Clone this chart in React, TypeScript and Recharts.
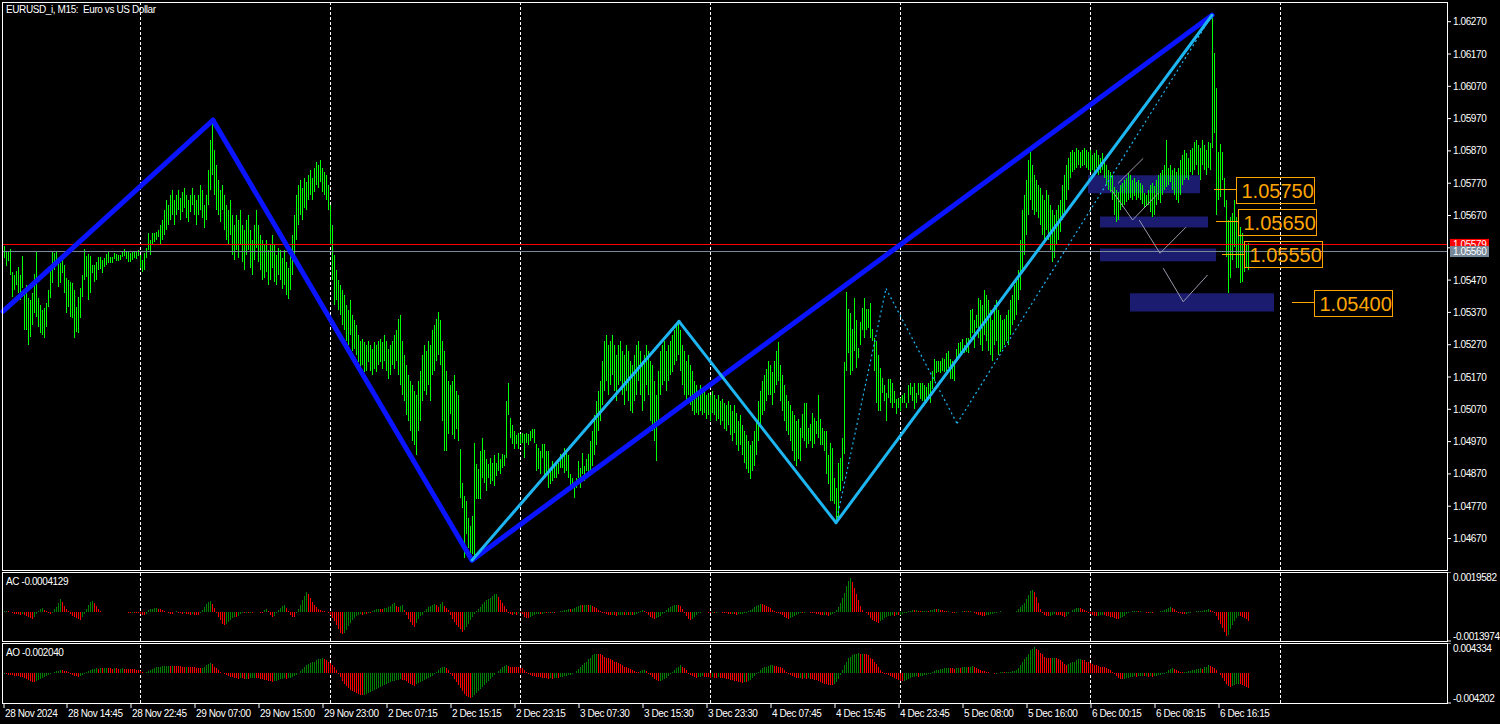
import React from "react";
import {
  ComposedChart,
  Bar,
  Cell,
  XAxis,
  YAxis,
  ReferenceLine,
  ReferenceArea,
  ReferenceDot,
} from "recharts";

// EURUSD M15 bars, stored as points above 1.00000 (5560 -> 1.05560)
const HIGH_PTS = [
  5575, 5560, 5560, 5566, 5495, 5486, 5498, 5510, 5486, 5544,
  5424, 5455, 5414, 5408, 5430, 5489, 5560, 5414, 5393, 5377,
  5383, 5399, 5439, 5504, 5557, 5554, 5560, 5532, 5523, 5535,
  5517, 5476, 5470, 5464, 5461, 5439, 5387, 5417, 5445, 5486,
  5566, 5544, 5551, 5544, 5517, 5517, 5526, 5541, 5541, 5532,
  5538, 5551, 5560, 5541, 5541, 5554, 5551, 5548, 5548, 5557,
  5566, 5560, 5557, 5554, 5560, 5560, 5560, 5563, 5548, 5532,
  5554, 5569, 5616, 5594, 5616, 5616, 5619, 5625, 5640, 5655,
  5686, 5717, 5702, 5732, 5748, 5717, 5732, 5748, 5723, 5742,
  5754, 5732, 5717, 5732, 5754, 5732, 5717, 5732, 5764, 5748,
  5702, 5732, 5810, 5903, 5960, 5872, 5826, 5779, 5748, 5764,
  5732, 5702, 5686, 5717, 5671, 5640, 5671, 5655, 5686, 5640,
  5624, 5655, 5671, 5624, 5593, 5640, 5686, 5640, 5609, 5593,
  5578, 5593, 5562, 5578, 5609, 5578, 5547, 5568, 5562, 5537,
  5562, 5525, 5506, 5547, 5609, 5671, 5732, 5764, 5779, 5754,
  5785, 5773, 5795, 5810, 5785, 5816, 5835, 5826, 5841, 5816,
  5804, 5795, 5764, 5702, 5640, 5547, 5500, 5469, 5454, 5438,
  5423, 5392, 5376, 5407, 5361, 5345, 5330, 5299, 5283, 5289,
  5277, 5268, 5283, 5268, 5258, 5277, 5268, 5283, 5289, 5277,
  5299, 5283, 5258, 5268, 5283, 5299, 5314, 5351, 5361, 5283,
  5237, 5206, 5175, 5159, 5144, 5128, 5113, 5159, 5190, 5237,
  5268, 5252, 5283, 5268, 5314, 5330, 5351, 5370, 5345, 5283,
  5252, 5190, 5159, 5144, 5159, 5175, 5128, 5113, 4948, 4843,
  4803, 4787, 4734, 4710, 4741, 4967, 4902, 4886, 4942, 4982,
  4945, 4917, 4902, 4920, 4905, 4927, 4905, 4936, 4917, 4933,
  4927, 5097, 5150, 5044, 5020, 5004, 4989, 4998, 4995, 4998,
  4995, 4998, 4995, 5004, 5010, 5010, 4964, 4951, 4942, 4964,
  4964, 4942, 4942, 4889, 4911, 4902, 4902, 4905, 4933, 4927,
  4951, 4942, 4927, 4871, 4858, 4840, 4858, 4911, 4889, 4936,
  4896, 4917, 4933, 4973, 5004, 5051, 5097, 5128, 5159, 5221,
  5283, 5299, 5268, 5283, 5299, 5268, 5237, 5268, 5283, 5252,
  5237, 5268, 5252, 5221, 5206, 5237, 5268, 5283, 5252, 5221,
  5237, 5268, 5252, 5221, 5206, 5159, 5113, 5190, 5252, 5268,
  5283, 5252, 5268, 5283, 5299, 5314, 5330, 5339, 5314, 5268,
  5252, 5221, 5237, 5206, 5190, 5159, 5144, 5128, 5144, 5128,
  5134, 5113, 5122, 5113, 5128, 5113, 5103, 5113, 5097, 5103,
  5091, 5082, 5097, 5082, 5066, 5082, 5060, 5035, 5051, 5020,
  5004, 4989, 4973, 4958, 4973, 5004, 5035, 5097, 5128, 5159,
  5175, 5196, 5221, 5206, 5184, 5221, 5252, 5277, 5206, 5175,
  5144, 5113, 5097, 5082, 5066, 5051, 5035, 5041, 5013, 5057,
  5088, 5088, 5013, 5026, 5060, 5044, 5035, 5113, 5041, 5013,
  5004, 5004, 4927, 4967, 4951, 4858, 4827, 4905, 4920, 4982,
  5215, 5432, 5382, 5367, 5320, 5416, 5345, 5261, 5339, 5385,
  5416, 5382, 5382, 5398, 5320, 5292, 5283, 5237, 5199, 5168,
  5144, 5122, 5165, 5165, 5150, 5128, 5103, 5106, 5106, 5113,
  5119, 5091, 5144, 5150, 5138, 5150, 5122, 5150, 5150, 5150,
  5144, 5138, 5150, 5159, 5190, 5227, 5221, 5221, 5221, 5230,
  5227, 5243, 5252, 5227, 5221, 5206, 5258, 5274, 5277, 5289,
  5268, 5292, 5292, 5376, 5382, 5345, 5361, 5416, 5407, 5392,
  5438, 5423, 5407, 5376, 5345, 5392, 5407, 5376, 5361, 5345,
  5351, 5361, 5376, 5407, 5423, 5454, 5469, 5500, 5593, 5686,
  5732, 5779, 5841, 5872, 5826, 5795, 5779, 5764, 5754, 5732,
  5717, 5748, 5732, 5702, 5686, 5671, 5686, 5702, 5717, 5764,
  5795, 5826, 5847, 5866, 5872, 5866, 5878, 5872, 5866, 5872,
  5878, 5872, 5866, 5872, 5857, 5863, 5872, 5857, 5847, 5863,
  5841, 5826, 5810, 5804, 5795, 5757, 5748, 5742, 5764, 5770,
  5779, 5785, 5801, 5795, 5779, 5785, 5773, 5779, 5770, 5764,
  5739, 5732, 5748, 5764, 5770, 5761, 5779, 5795, 5801, 5810,
  5826, 5903, 5816, 5826, 5810, 5816, 5804, 5816, 5841, 5857,
  5872, 5863, 5847, 5872, 5878, 5897, 5903, 5888, 5878, 5903,
  5888, 5872, 5897, 5894, 6281, 6173, 6064, 5866, 5891, 5866,
  5785, 5717, 5655, 5664, 5677, 5717, 5664, 5615, 5633, 5615,
  5584, 5578, 5584,
];

const LOW_PTS = [
  5538, 5513, 5529, 5486, 5417, 5439, 5455, 5430, 5408, 5445,
  5315, 5315, 5269, 5294, 5331, 5368, 5356, 5325, 5306, 5300,
  5291, 5325, 5387, 5414, 5461, 5501, 5523, 5448, 5461, 5492,
  5430, 5368, 5387, 5356, 5352, 5291, 5309, 5306, 5352, 5417,
  5470, 5479, 5408, 5430, 5492, 5464, 5470, 5501, 5504, 5492,
  5510, 5517, 5523, 5523, 5523, 5535, 5529, 5529, 5532, 5541,
  5544, 5535, 5526, 5526, 5532, 5538, 5535, 5544, 5507, 5495,
  5501, 5538, 5563, 5548, 5578, 5588, 5594, 5603, 5578, 5593,
  5609, 5624, 5640, 5655, 5671, 5640, 5671, 5686, 5655, 5680,
  5692, 5661, 5649, 5680, 5702, 5671, 5640, 5671, 5686, 5661,
  5630, 5655, 5702, 5748, 5795, 5732, 5686, 5671, 5649, 5686,
  5624, 5593, 5578, 5609, 5547, 5531, 5562, 5537, 5578, 5525,
  5500, 5547, 5562, 5506, 5485, 5531, 5568, 5525, 5500, 5469,
  5475, 5494, 5454, 5469, 5506, 5463, 5454, 5485, 5469, 5444,
  5454, 5423, 5413, 5438, 5485, 5547, 5593, 5640, 5671, 5655,
  5692, 5686, 5717, 5732, 5717, 5742, 5764, 5754, 5773, 5742,
  5732, 5717, 5686, 5578, 5469, 5392, 5407, 5376, 5361, 5330,
  5314, 5283, 5268, 5299, 5252, 5258, 5237, 5215, 5196, 5206,
  5184, 5190, 5215, 5190, 5175, 5196, 5184, 5206, 5215, 5196,
  5221, 5190, 5165, 5175, 5206, 5196, 5221, 5175, 5144, 5113,
  5097, 5051, 5035, 5004, 4973, 4958, 4927, 5004, 5035, 5097,
  5128, 5113, 5144, 5097, 5175, 5190, 5221, 5237, 5206, 5035,
  4942, 4942, 4995, 5057, 4989, 4979, 5010, 4973, 4796, 4765,
  4610, 4685, 4641, 4610, 4623, 4610, 4793, 4793, 4793, 4858,
  4843, 4818, 4858, 4840, 4849, 4834, 4865, 4880, 4871, 4889,
  4896, 4920, 5051, 4982, 4964, 4948, 4964, 4948, 4964, 4967,
  4920, 4967, 4958, 4973, 4982, 4967, 4880, 4886, 4871, 4920,
  4858, 4871, 4827, 4840, 4849, 4858, 4858, 4871, 4889, 4889,
  4874, 4880, 4858, 4827, 4827, 4796, 4827, 4858, 4827, 4871,
  4849, 4880, 4871, 4880, 4896, 4927, 4958, 5004, 5035, 5082,
  5128, 5159, 5113, 5144, 5175, 5128, 5097, 5144, 5159, 5113,
  5082, 5128, 5097, 5066, 5060, 5097, 5113, 5159, 5113, 5066,
  5097, 5144, 5113, 5035, 5004, 4973, 4911, 5035, 5113, 5144,
  5159, 5128, 5159, 5175, 5184, 5206, 5221, 5237, 5190, 5144,
  5113, 5097, 5113, 5082, 5066, 5051, 5060, 5051, 5066, 5051,
  5060, 5041, 5051, 5035, 5060, 5051, 5035, 5041, 5020, 5035,
  5010, 5004, 5020, 4989, 4973, 4998, 4958, 4942, 4958, 4927,
  4905, 4886, 4874, 4855, 4880, 4896, 4927, 4973, 5020, 5051,
  5066, 5097, 5113, 5113, 5082, 5122, 5144, 5159, 5097, 5066,
  5035, 5004, 4989, 4973, 4942, 4911, 4896, 4917, 4911, 4982,
  4973, 4951, 4964, 4973, 4951, 4964, 4995, 4982, 4958, 4958,
  4942, 4871, 4840, 4787, 4787, 4778, 4716, 4734, 4818, 4849,
  4933, 5190, 5243, 5175, 5190, 5252, 5199, 5230, 5268, 5314,
  5292, 5314, 5323, 5292, 5283, 5190, 5088, 5066, 5066, 5119,
  5097, 5035, 5106, 5088, 5075, 5088, 5057, 5075, 5066, 5088,
  5088, 5075, 5088, 5113, 5097, 5072, 5088, 5113, 5103, 5097,
  5091, 5088, 5106, 5091, 5134, 5159, 5181, 5184, 5181, 5190,
  5184, 5190, 5199, 5165, 5165, 5159, 5221, 5230, 5243, 5243,
  5243, 5246, 5243, 5292, 5305, 5261, 5323, 5292, 5268, 5252,
  5299, 5283, 5252, 5237, 5221, 5268, 5283, 5237, 5246, 5258,
  5268, 5283, 5268, 5299, 5330, 5345, 5361, 5407, 5438, 5500,
  5547, 5609, 5671, 5717, 5686, 5671, 5680, 5661, 5640, 5609,
  5593, 5624, 5593, 5562, 5525, 5537, 5578, 5593, 5618, 5655,
  5680, 5717, 5748, 5785, 5804, 5810, 5816, 5826, 5816, 5822,
  5826, 5816, 5810, 5804, 5810, 5804, 5816, 5795, 5801, 5810,
  5785, 5764, 5748, 5742, 5717, 5671, 5649, 5655, 5686, 5695,
  5702, 5711, 5717, 5723, 5717, 5729, 5717, 5723, 5717, 5705,
  5692, 5698, 5702, 5680, 5664, 5671, 5702, 5717, 5708, 5732,
  5748, 5757, 5764, 5773, 5748, 5732, 5717, 5708, 5732, 5764,
  5779, 5785, 5779, 5804, 5795, 5810, 5826, 5795, 5779, 5826,
  5810, 5795, 5816, 5810, 5880, 5925, 5671, 5717, 5726, 5779,
  5695, 5540, 5429, 5478, 5531, 5571, 5509, 5509, 5460, 5463,
  5494, 5509, 5500,
];

// Awesome Oscillator, x 1e-5
const AO_E5 = [
  -14, -14, -21, -28, -28, -36, -43, -43, -50, -57,
  -71, -85, -99, -114, -128, -128, -114, -99, -85, -71,
  -57, -43, -28, -14, 7, 21, 28, 36, 43, 43,
  36, 28, 14, -3, -21, -36, -43, -50, -43, -28,
  -14, 14, 36, 50, 57, 64, 71, 70, 72, 71,
  73, 74, 72, 71, 70, 72, 71, 69, 70, 72,
  70, 68, 67, 64, 62, 57, 55, 50, 28, 14,
  7, 14, 28, 43, 57, 71, 85, 92, 99, 100,
  101, 105, 107, 106, 108, 107, 105, 104, 100, 98,
  97, 99, 93, 92, 86, 85, 79, 72, 71, 78,
  92, 114, 135, 142, 128, 99, 71, 43, 21, 3,
  -14, -28, -43, -50, -57, -64, -71, -72, -70, -71,
  -73, -72, -74, -71, -70, -64, -65, -71, -78, -85,
  -92, -99, -107, -114, -121, -114, -107, -92, -85, -78,
  -71, -72, -70, -64, -57, -43, -21, 3, 28, 57,
  85, 114, 128, 142, 156, 170, 185, 199, 206, 213,
  206, 192, 170, 142, 114, 85, 43, -3, -57, -114,
  -156, -185, -213, -234, -256, -270, -284, -298, -305, -312,
  -305, -298, -284, -270, -256, -241, -227, -213, -199, -185,
  -170, -156, -142, -128, -114, -107, -99, -92, -85, -87,
  -99, -114, -135, -156, -170, -172, -156, -142, -128, -114,
  -99, -85, -71, -57, -43, -14, 14, 43, 71, 85,
  86, 71, 43, -3, -43, -85, -128, -170, -213, -256,
  -298, -327, -341, -348, -334, -305, -277, -248, -220, -192,
  -163, -135, -106, -78, -50, -21, 7, 36, 64, 92,
  108, 114, 107, 99, 93, 92, 86, 85, 78, 71,
  43, 14, -14, -28, -36, -43, -44, -50, -57, -64,
  -65, -71, -73, -70, -72, -71, -64, -65, -57, -50,
  -43, -36, -28, -21, -14, 7, 28, 57, 85, 114,
  142, 170, 199, 227, 256, 270, 284, 277, 270, 256,
  241, 227, 213, 199, 185, 170, 156, 142, 128, 114,
  99, 85, 71, 57, 43, 28, 21, 14, 28, 43,
  44, 28, -3, -28, -57, -85, -99, -114, -112, -99,
  -85, -71, -43, -14, 14, 43, 71, 99, 114, 99,
  71, 43, -3, -28, -43, -57, -64, -57, -50, -43,
  -44, -50, -57, -58, -56, -64, -65, -57, -58, -64,
  -71, -78, -85, -92, -99, -107, -114, -121, -128, -129,
  -127, -128, -114, -99, -71, -43, -14, 14, 43, 71,
  85, 99, 107, 114, 115, 113, 107, 99, 85, 71,
  43, 14, -14, -28, -43, -57, -64, -71, -70, -78,
  -71, -72, -70, -78, -85, -92, -99, -114, -128, -142,
  -149, -156, -163, -170, -171, -156, -128, -85, -28, 43,
  114, 170, 213, 241, 263, 277, 284, 285, 277, 284,
  283, 270, 256, 227, 199, 170, 128, 85, 43, 14,
  -3, -14, -28, -43, -57, -71, -85, -99, -107, -114,
  -107, -99, -85, -71, -57, -50, -43, -44, -42, -36,
  -28, -21, -14, -3, 14, 28, 43, 50, 57, 64,
  71, 72, 78, 77, 71, 70, 71, 78, 77, 85,
  86, 92, 91, 99, 100, 92, 78, 64, 50, 36,
  28, 21, 14, 7, 6, -3, -2, 7, 14, 15,
  14, 15, 21, 22, 28, 29, 43, 71, 114, 156,
  199, 241, 284, 327, 355, 376, 355, 327, 298, 270,
  241, 227, 220, 213, 214, 220, 213, 199, 185, 156,
  128, 121, 128, 142, 156, 170, 185, 199, 200, 192,
  185, 170, 156, 142, 128, 121, 114, 107, 99, 92,
  85, 71, 57, 43, 14, -14, -43, -64, -78, -85,
  -78, -71, -64, -57, -50, -43, -44, -42, -36, -35,
  -43, -42, -44, -43, -45, -36, -35, -28, -21, -14,
  -2, 21, 43, 64, 71, 57, 43, 28, 21, 14,
  15, 21, 28, 36, 43, 50, 57, 64, 71, 70,
  85, 99, 114, 113, 99, 71, 43, 7, -28, -71,
  -114, -156, -185, -192, -185, -170, -156, -149, -156, -170,
  -185, -199, -204,
];

// Accelerator Oscillator, x 1e-5
const AC_E5 = [
  5, 7, 5, 2, -5, -7, -10, -10, -12, -10,
  -15, -19, -24, -29, -34, -24, -10, 7, 15, 19,
  10, 5, -5, -10, -5, 15, 24, 44, 63, 49,
  29, 15, 5, -10, -19, -24, -29, -34, -39, -24,
  -10, 15, 34, 49, 53, 44, 29, 15, 5, 2,
  1, 2, 3, 2, 3, 2, 1, 2, 3, 2,
  2, 3, -2, -3, -2, -3, -3, -5, -7, -15,
  -15, -10, 10, 15, 17, 19, 20, 17, 15, 10,
  5, 2, -5, -7, -8, 2, 5, -2, -5, -7,
  -5, -7, -10, -12, -10, -11, -12, -15, -5, 10,
  24, 39, 49, 53, 39, 19, -5, -24, -39, -58,
  -63, -58, -49, -39, -29, -24, -25, -19, -10, -5,
  -5, -2, -3, -2, -3, 2, 3, 2, -2, -5,
  10, 15, 5, -15, -24, -19, -5, 10, 19, 29,
  34, 19, 5, -15, -24, -25, -5, 15, 34, 58,
  78, 97, 87, 68, 49, 34, 24, 15, 10, 7,
  5, 2, -5, -15, -29, -44, -63, -83, -102, -107,
  -102, -87, -68, -53, -39, -29, -19, -15, -10, -11,
  -7, -8, -5, -6, 5, 10, 15, 17, 15, 14,
  19, 20, 24, 29, 39, 44, 29, 24, 29, 34,
  10, -15, -34, -49, -63, -73, -53, -34, -19, -15,
  5, 15, 24, 29, 34, 39, 34, 24, 39, 49,
  29, 19, 10, -15, -34, -49, -63, -73, -83, -97,
  -87, -73, -58, -39, -24, -10, 5, 15, 24, 39,
  49, 58, 63, 68, 78, 87, 88, 73, 58, 44,
  29, 15, -2, -10, -15, -10, -11, -5, -6, -10,
  -24, -29, -30, -24, -19, -15, -10, -7, -8, -7,
  -5, -6, -2, -3, -2, -3, 2, 3, 5, 7,
  10, 12, 15, 14, 15, 19, 24, 29, 34, 33,
  34, 35, 34, 35, 29, 24, 19, 10, 5, -2,
  -5, -10, -12, -15, -14, -15, -16, -15, -14, -12,
  -13, -12, -13, -12, -13, -12, -10, -5, 5, 10,
  5, -5, -15, -24, -29, -34, -29, -24, -19, -10,
  -2, 10, 19, 24, 29, 34, 35, 34, 29, 15,
  -5, -19, -34, -39, -34, -24, -15, -5, -2, 2,
  2, 1, -2, -3, -2, -3, -2, 2, 3, -2,
  -5, -6, -7, -8, -7, -10, -11, -10, -9, -7,
  -5, -2, 5, 10, 17, 24, 29, 34, 39, 38,
  34, 29, 24, 19, 12, 5, -2, -5, -10, -15,
  -24, -29, -34, -29, -24, -19, -15, -10, -5, -6,
  -2, 2, 3, -2, -3, -5, -7, -10, -12, -15,
  -14, -15, -16, -12, -10, -5, 10, 24, 44, 68,
  92, 126, 150, 165, 146, 117, 87, 58, 29, 10,
  2, -5, -15, -29, -39, -44, -49, -50, -44, -39,
  -29, -24, -19, -17, -15, -16, -14, -15, -12, -10,
  -5, -2, 5, 7, 10, 9, 10, 7, 5, 6,
  7, 8, 7, 10, 12, 15, 14, 15, 12, 10,
  7, 5, 6, 2, -2, -3, -2, 2, 3, 5,
  5, 6, 5, 6, 2, -2, -7, -12, -15, -17,
  -18, -15, -12, -10, -7, -5, -2, 2, 5, 2,
  2, 3, 2, 3, 2, 3, 5, 15, 24, 34,
  44, 63, 83, 102, 107, 97, 73, 44, 15, -5,
  -15, -19, -20, -17, -15, -10, -11, -12, -15, -19,
  -24, -19, -10, 2, 10, 15, 19, 22, 19, 15,
  10, 5, -5, -10, -15, -17, -18, -17, -15, -14,
  -15, -17, -19, -22, -24, -29, -34, -35, -29, -24,
  -17, -10, -5, 2, 5, 7, 8, 5, 6, 2,
  3, -2, -3, -2, -3, 2, 3, 2, 5, 7,
  10, 15, 19, 24, 22, 15, 7, -2, -5, -10,
  -10, -7, -5, -2, 2, 3, 5, 6, 7, 8,
  10, 12, 15, 12, 7, -5, -19, -39, -58, -78,
  -97, -117, -112, -83, -63, -44, -29, -19, -20, -24,
  -29, -34, -41.29,
];

const TIME_TICKS = [-0.5, 31, 63, 95, 127, 159, 191, 223, 255, 287, 319, 351, 383, 415, 447, 479, 511, 543, 575, 607];
const TIME_LABELS = [
  "28 Nov 2024", "28 Nov 14:45", "28 Nov 22:45", "29 Nov 07:00", "29 Nov 15:00",
  "29 Nov 23:00", "2 Dec 07:15", "2 Dec 15:15", "2 Dec 23:15", "3 Dec 07:30",
  "3 Dec 15:30", "3 Dec 23:30", "4 Dec 07:45", "4 Dec 15:45", "4 Dec 23:45",
  "5 Dec 08:00", "5 Dec 16:00", "6 Dec 00:15", "6 Dec 08:15", "6 Dec 16:15",
];
const PRICE_TICKS = [
  1.0467, 1.0477, 1.0487, 1.0497, 1.0507, 1.0517, 1.0527, 1.0537, 1.0547,
  1.0557, 1.0567, 1.0577, 1.0587, 1.0597, 1.0607, 1.0617, 1.0627,
];
const GRID_BARS = [67.75, 162.75, 257.75, 352.75, 447.75, 542.75, 637.75];

const BAR_RANGE = [-1, 721];
const PRICE_RANGE = [1.045725, 1.063279];
const AC_RANGE = [-0.0013974, 0.0019582];
const AO_RANGE = [-0.004202, 0.004334];

const ASK = 1.05579;
const BID = 1.0556;

// zigzag pivots: [bar, price]
const MAJOR_WAVE = [[-1, 1.05373], [104, 1.05965], [233.5, 1.04603], [603.5, 1.0629]];
const MINOR_WAVE = [[233.5, 1.04603], [337, 1.05342], [415.5, 1.04719], [603.5, 1.0629]];
const PROJECTION = [[415.5, 1.04719], [440.5, 1.05444], [476, 1.05026], [603.5, 1.0629]];
const GREY_LEGS = [
  [[556.6, 1.0577], [569.1, 1.05847]],
  [[553.3, 1.05749], [563.8, 1.05656], [576.6, 1.05739]],
  [[567.1, 1.05656], [577.5, 1.05553], [590.5, 1.05634]],
  [[579.1, 1.05507], [589.1, 1.05403], [601.3, 1.05486]],
];
const ZONES = [
  { from: 541.5, to: 597.5, low: 1.05739, high: 1.05795 },
  { from: 547.5, to: 601.5, low: 1.05633, high: 1.05667 },
  { from: 547.5, to: 605.5, low: 1.05528, high: 1.05568 },
  { from: 562.5, to: 634.5, low: 1.05373, high: 1.05429 },
];
const LEVELS = [
  { price: 1.0575, from: 604.5, to: 615.5 },
  { price: 1.0565, from: 605.5, to: 616.5 },
  { price: 1.0555, from: 608.5, to: 619.5 },
  { price: 1.054, from: 643.5, to: 654.5 },
];

const FONT = "'Liberation Sans', Arial, sans-serif";
const WHITE = "#ffffff";
const LIME = "#00ff00";
const UP = "#008000";
const DOWN = "#ff0000";
const ORANGE = "#ffa500";
const NAVY = "#1b1b6f";
const BLUE = "#0a14ff";
const SKY = "#1eb6f2";

const N = Math.min(HIGH_PTS.length, LOW_PTS.length, AO_E5.length, AC_E5.length);
const rows = HIGH_PTS.slice(0, N).map((h, i) => ({
  i,
  range: [1 + LOW_PTS[i] / 100000, 1 + h / 100000],
  ac: AC_E5[i] / 100000,
  ao: AO_E5[i] / 100000,
}));

const segments = (path: number[][]) =>
  path.slice(1).map((p, k) => [
    { x: path[k][0], y: path[k][1] },
    { x: p[0], y: p[1] },
  ]);

const small = { fill: WHITE, fontSize: 10, fontFamily: FONT, letterSpacing: -0.4 };

const CSS =
  "html,body{margin:0;padding:0;background:#000}" +
  ".recharts-bar-rectangle path,.recharts-bar-rectangle rect{shape-rendering:crispEdges}" +
  ".crisp line{shape-rendering:crispEdges}";

function gridLines(prefix: string) {
  return GRID_BARS.map((b) => (
    <ReferenceLine key={prefix + b} x={b} className="crisp" stroke={WHITE} strokeDasharray="3 2" zIndex={0} />
  ));
}

function SubTick(props: any) {
  const { x, y, payload, digits } = props;
  const top = payload.value > 0;
  return (
    <text x={x} y={top ? y + 9 : y - 1.5} {...small} textAnchor="start">
      {payload.value.toFixed(digits)}
    </text>
  );
}

function TimeTick(props: any) {
  const { x, y, payload } = props;
  const k = TIME_TICKS.indexOf(payload.value);
  return (
    <text x={x + 1} y={y + 7} {...small} textAnchor="start">
      {TIME_LABELS[k] ?? ""}
    </text>
  );
}

function PriceTag({ cx, cy, color, top, h, text }: any) {
  return (
    <g>
      <rect x={cx + 3} y={cy - top} width={39} height={h} fill={color} />
      <text x={cx + 6} y={cy - top + h / 2 + 3.5} {...small}>
        {text}
      </text>
    </g>
  );
}

function LevelTag({ cx, cy, text }: any) {
  const x = Math.round(cx) + 0.5;
  const y = Math.round(cy) - 12.5;
  return (
    <g>
      <rect x={x} y={y} width={78} height={26} fill="none" stroke={ORANGE} />
      <text x={x + 5} y={y + 20.5} fill={ORANGE} fontSize={20} fontFamily={FONT}>
        {text}
      </text>
    </g>
  );
}

export default function App() {
  const last = N - 1;
  return (
    <div style={{ position: "relative", width: 1500, height: 724, background: "#000", overflow: "hidden" }}>
      <style>{CSS}</style>

      <div style={{ position: "absolute", left: 0, top: 0 }}>
        <ComposedChart width={1500} height={572} data={rows} margin={{ top: 3, right: 0, bottom: 2, left: 3 }}>
          <XAxis dataKey="i" type="number" domain={BAR_RANGE} allowDataOverflow hide />
          <YAxis
            orientation="right"
            width={53}
            domain={PRICE_RANGE}
            allowDataOverflow
            ticks={PRICE_TICKS}
            interval={0}
            tickFormatter={(v: number) => v.toFixed(5)}
            axisLine={false}
            tickLine={{ stroke: WHITE }}
            tickSize={4}
            tick={small}
          />
          {gridLines("m")}
          {ZONES.map((z, k) => (
            <ReferenceArea
              key={"z" + k}
              x1={z.from}
              x2={z.to}
              y1={z.low}
              y2={z.high}
              fill={NAVY}
              fillOpacity={1}
              stroke="none"
              zIndex={50}
            />
          ))}
          <Bar dataKey="range" barSize={1} fill={LIME} isAnimationActive={false} />
          <ReferenceLine y={ASK} className="crisp" stroke="#ff0000" zIndex={600} />
          <ReferenceLine y={BID} className="crisp" stroke="#778899" zIndex={600} />
          {GREY_LEGS.flatMap((leg, k) =>
            segments(leg).map((s, j) => (
              <ReferenceLine key={"g" + k + j} segment={s} stroke="#9a9aaa" strokeWidth={1} zIndex={600} />
            ))
          )}
          {segments(PROJECTION).map((s, k) => (
            <ReferenceLine key={"p" + k} segment={s} stroke={SKY} strokeWidth={1.2} strokeDasharray="2 3" zIndex={600} />
          ))}
          {segments(MAJOR_WAVE).map((s, k) => (
            <ReferenceLine key={"M" + k} segment={s} stroke={BLUE} strokeWidth={5} strokeLinecap="round" zIndex={610} />
          ))}
          {segments(MINOR_WAVE).map((s, k) => (
            <ReferenceLine key={"m" + k} segment={s} stroke={SKY} strokeWidth={3} strokeLinecap="round" zIndex={620} />
          ))}
          {LEVELS.map((l) => (
            <ReferenceLine
              key={"ll" + l.price}
              className="crisp"
              segment={[{ x: l.from, y: l.price }, { x: l.to, y: l.price }]}
              stroke={ORANGE}
              zIndex={700}
            />
          ))}
          {LEVELS.map((l) => (
            <ReferenceDot
              key={"ld" + l.price}
              x={l.to}
              y={l.price}
              r={0}
              zIndex={700}
              shape={(p: any) => <LevelTag cx={p.cx} cy={p.cy} text={l.price.toFixed(5)} />}
            />
          ))}
          <ReferenceDot
            x={BAR_RANGE[1]}
            y={ASK}
            r={0}
            ifOverflow="visible"
            zIndex={2500}
            shape={(p: any) => <PriceTag cx={p.cx} cy={p.cy} color="#ff0000" top={6} h={12} text={ASK.toFixed(5)} />}
          />
          <ReferenceDot
            x={BAR_RANGE[1]}
            y={BID}
            r={0}
            ifOverflow="visible"
            zIndex={2600}
            shape={(p: any) => <PriceTag cx={p.cx} cy={p.cy} color="#778899" top={5} h={11} text={BID.toFixed(5)} />}
          />
        </ComposedChart>
      </div>

      <div style={{ position: "absolute", left: 0, top: 572 }}>
        <ComposedChart width={1500} height={70} data={rows} margin={{ top: 0, right: 0, bottom: 1, left: 3 }}>
          <XAxis dataKey="i" type="number" domain={BAR_RANGE} allowDataOverflow hide />
          <YAxis
            orientation="right"
            width={53}
            domain={AC_RANGE}
            allowDataOverflow
            ticks={AC_RANGE}
            interval={0}
            axisLine={false}
            tickLine={{ stroke: WHITE }}
            tickSize={4}
            tick={(p: any) => <SubTick {...p} digits={7} />}
          />
          {gridLines("c")}
          <Bar dataKey="ac" barSize={1} isAnimationActive={false}>
            {rows.map((r, k) => (
              <Cell key={k} fill={k === 0 || AC_E5[k] > AC_E5[k - 1] ? UP : DOWN} />
            ))}
          </Bar>
        </ComposedChart>
      </div>

      <div style={{ position: "absolute", left: 0, top: 643 }}>
        <ComposedChart width={1500} height={81} data={rows} margin={{ top: 0, right: 0, bottom: 0, left: 3 }}>
          <XAxis
            dataKey="i"
            type="number"
            domain={BAR_RANGE}
            allowDataOverflow
            ticks={TIME_TICKS}
            interval={0}
            height={21}
            axisLine={false}
            tickLine={{ stroke: WHITE }}
            tickSize={5}
            tick={(p: any) => <TimeTick {...p} />}
          />
          <YAxis
            orientation="right"
            width={53}
            domain={AO_RANGE}
            allowDataOverflow
            ticks={AO_RANGE}
            interval={0}
            axisLine={false}
            tickLine={{ stroke: WHITE }}
            tickSize={4}
            tick={(p: any) => <SubTick {...p} digits={6} />}
          />
          {gridLines("o")}
          <Bar dataKey="ao" barSize={1} isAnimationActive={false}>
            {rows.map((r, k) => (
              <Cell key={k} fill={k === 0 || AO_E5[k] > AO_E5[k - 1] ? UP : DOWN} />
            ))}
          </Bar>
        </ComposedChart>
      </div>

      <svg width={1500} height={724} style={{ position: "absolute", left: 0, top: 0, pointerEvents: "none" }}>
        <rect x={2.5} y={2.5} width={1445} height={568} fill="none" stroke={WHITE} />
        <rect x={2.5} y={572.5} width={1445} height={69} fill="none" stroke={WHITE} />
        <rect x={2.5} y={643.5} width={1445} height={60} fill="none" stroke={WHITE} />
        <text x={6} y={13} {...small} style={{ whiteSpace: "pre" }}>
          {"EURUSD_i, M15:  Euro vs US Dollar"}
        </text>
        <text x={6} y={585} {...small}>
          {"AC " + (AC_E5[last] / 100000).toFixed(7)}
        </text>
        <text x={6} y={656} {...small}>
          {"AO " + (AO_E5[last] / 100000).toFixed(6)}
        </text>
      </svg>
    </div>
  );
}
